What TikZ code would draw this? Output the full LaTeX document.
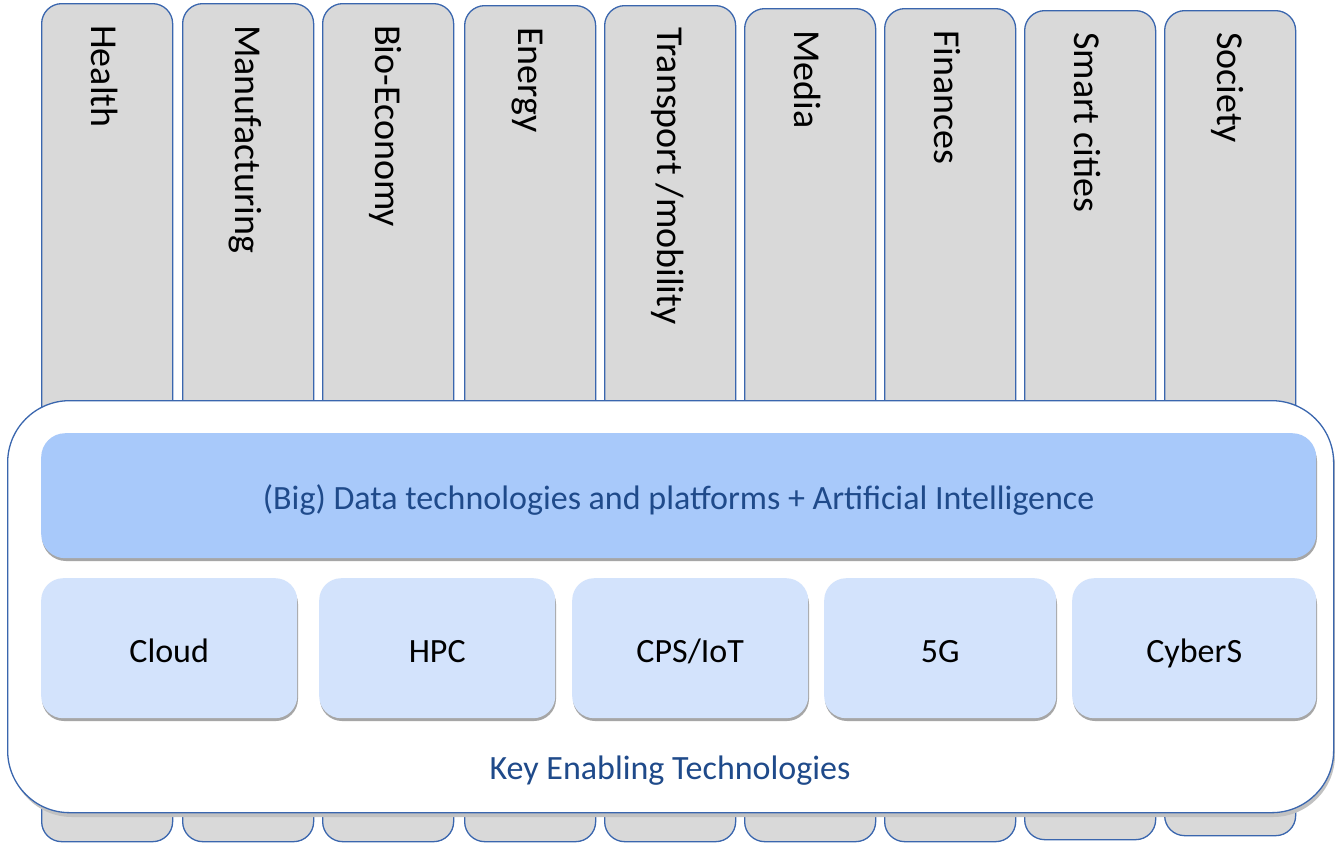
\documentclass[tikz,border=0pt]{standalone}
\usepackage{fontspec}
\setmainfont{Carlito}
\usetikzlibrary{calc}
\definecolor{colfill}{HTML}{D9D9D9}
\definecolor{bordblue}{HTML}{3A66AE}
\definecolor{datafill}{HTML}{A8C9FA}
\definecolor{ketfill}{HTML}{D3E3FC}
\definecolor{txtblue}{HTML}{1F4A8A}
\definecolor{shadowgray}{HTML}{A6A6A6}
\tikzset{
  colbox/.style={draw=bordblue, line width=1.3pt, fill=colfill, rounded corners=20pt, minimum width=131pt, inner sep=0pt, anchor=north west},
  collab/.style={rotate=-90, anchor=west, inner sep=0pt, font=\fontsize{38}{40}\selectfont},
  outer/.style={draw=bordblue, line width=1.3pt, fill=white, rounded corners=62pt, inner sep=0pt, anchor=north west},
  databox/.style={fill=datafill, rounded corners=24pt, inner sep=0pt, anchor=north west, font=\fontsize{34}{36}\selectfont, text=txtblue, text height=27pt, text depth=0pt},
  ketbox/.style={fill=ketfill, rounded corners=22pt, inner sep=0pt, anchor=north west, minimum height=140pt, font=\fontsize{34}{36}\selectfont, text height=28pt, text depth=0pt},
}
\begin{document}
\begin{tikzpicture}[x=1pt,y=-1pt]
\useasboundingbox (0,0) rectangle (1335,844);
% columns
\foreach \n/\x/\t/\h/\lab in {1/41/3/838/Health, 2/182/3/838/Manufacturing, 3/322/3/838/Bio-Economy, 4/464/5/836/Energy, 5/604/5/836/{Transport /mobility}, 6/744/8/833/Media, 7/884/8/833/Finances, 8/1024/10/829/Smart cities, 9/1164/10/825/Society}{
  \node[colbox, minimum height=\h pt] (c\n) at (\x,\t) {};
  \node[collab] (l\n) at ($(c\n.north)+(-3,22)$) {\lab};
}
% outer white box with shadow
\fill[shadowgray!70, rounded corners=62pt] (10,405) rectangle (1335,817);
\node[outer, minimum width=1326pt, minimum height=412pt] (ket) at (7,400) {};
% data box
\fill[shadowgray, rounded corners=24pt] (42,437) rectangle (1317,561);
\node[databox, minimum width=1275pt, minimum height=125pt] (data) at (41,433) {(Big) Data technologies and platforms + Artificial Intelligence};
% small boxes
\foreach \n/\x/\w/\lab in {1/41/256/Cloud, 2/319/236/HPC, 3/572/236/{CPS/IoT}, 4/824/232/5G, 5/1072/244/CyberS}{
  \fill[shadowgray, rounded corners=22pt] (\x+1,582) rectangle (\x+\w+1,721);
  \node[ketbox, minimum width=\w pt] (k\n) at (\x,578) {\lab};
}
\node[font=\fontsize{34}{36}\selectfont, text=txtblue, inner sep=0pt, anchor=base] (ketlab) at (670,779) {Key Enabling Technologies};
\end{tikzpicture}
\end{document}
